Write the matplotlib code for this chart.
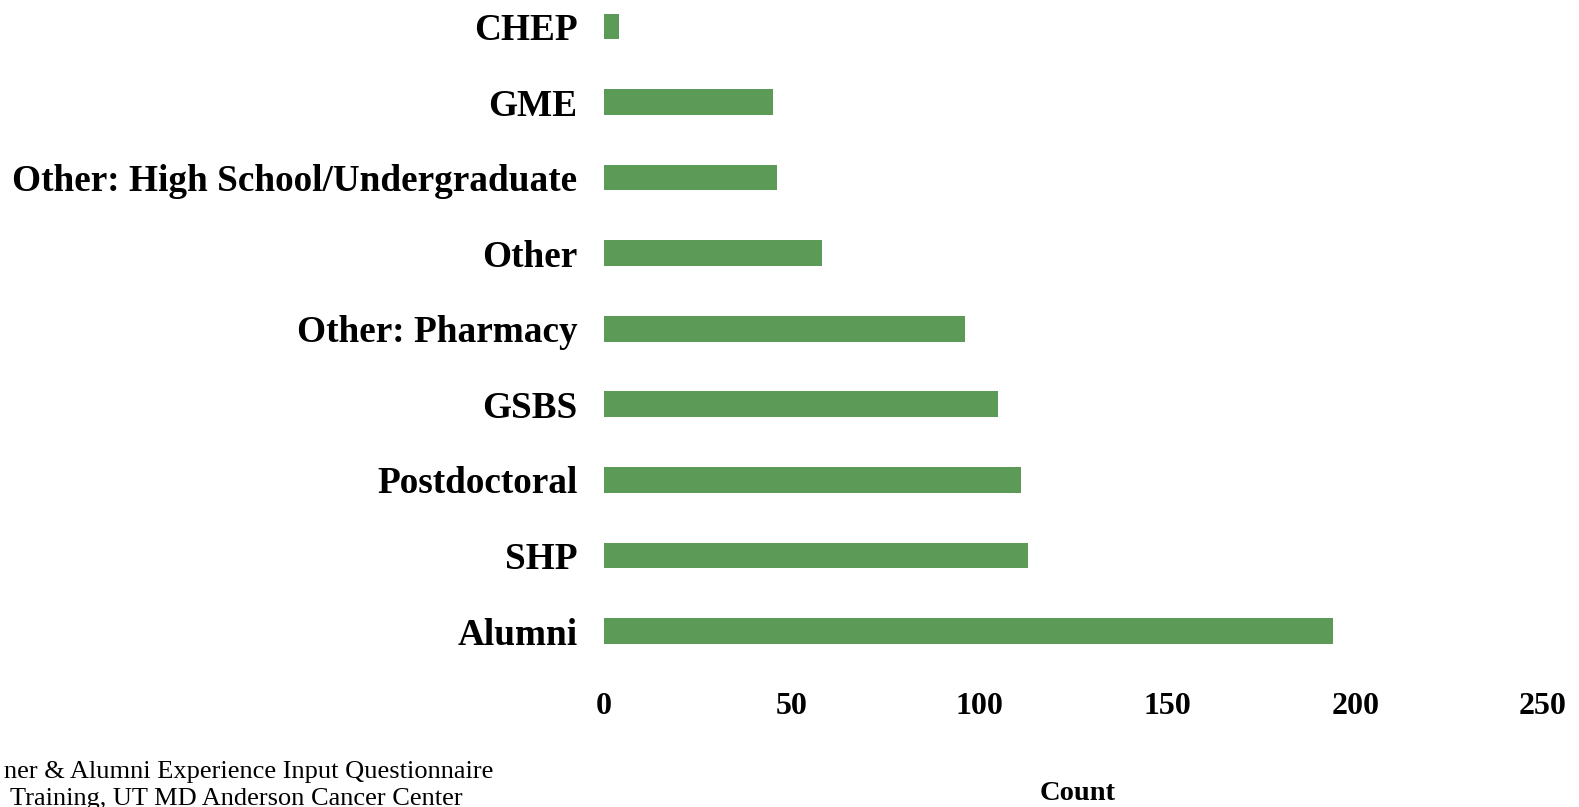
import matplotlib
matplotlib.use("Agg")
import matplotlib.pyplot as plt

categories = ["Alumni", "SHP", "Postdoctoral", "GSBS", "Other: Pharmacy",
              "Other", "Other: High School/Undergraduate", "GME", "CHEP"]
counts = [194, 113, 111, 105, 96, 58, 46, 45, 4]
x_ticks = [0, 50, 100, 150, 200, 250]

W, H = 1579, 807
fig = plt.figure(figsize=(W / 100, H / 100), dpi=100)
ax = fig.add_axes([604 / W, 1 - 680 / H, (1543 - 604) / W, 680 / H])

ypos = list(range(len(categories)))
ax.barh(ypos, counts, height=0.34, color="#5c9a58", edgecolor="none")

ax.set_xlim(0, 250)
ax.set_ylim(-0.648, 8.35)
ax.set_xticks(x_ticks)
ax.set_yticks(ypos)
ax.set_yticklabels(categories)

serif = "Liberation Serif"
for lab in ax.get_yticklabels():
    lab.set_fontfamily(serif)
    lab.set_fontweight("bold")
    lab.set_fontsize(26.8)
for lab in ax.get_xticklabels():
    lab.set_fontfamily(serif)
    lab.set_fontweight("bold")
    lab.set_fontsize(23)

ax.tick_params(axis="y", length=0, pad=19)
ax.tick_params(axis="x", length=0, pad=9)
for s in ax.spines.values():
    s.set_visible(False)

fig.text(1078 / W, 1 - 793 / H, "Count", family=serif, weight="bold",
         fontsize=20.5, ha="center", va="center")

fig.text(493 / W, 1 - 772 / H, "ner & Alumni Experience Input Questionnaire",
         family=serif, fontsize=19, ha="right", va="center")
fig.text(463 / W, 1 - 799 / H, "Training, UT MD Anderson Cancer Center",
         family=serif, fontsize=19, ha="right", va="center")

fig.savefig("out.png", dpi=100)
